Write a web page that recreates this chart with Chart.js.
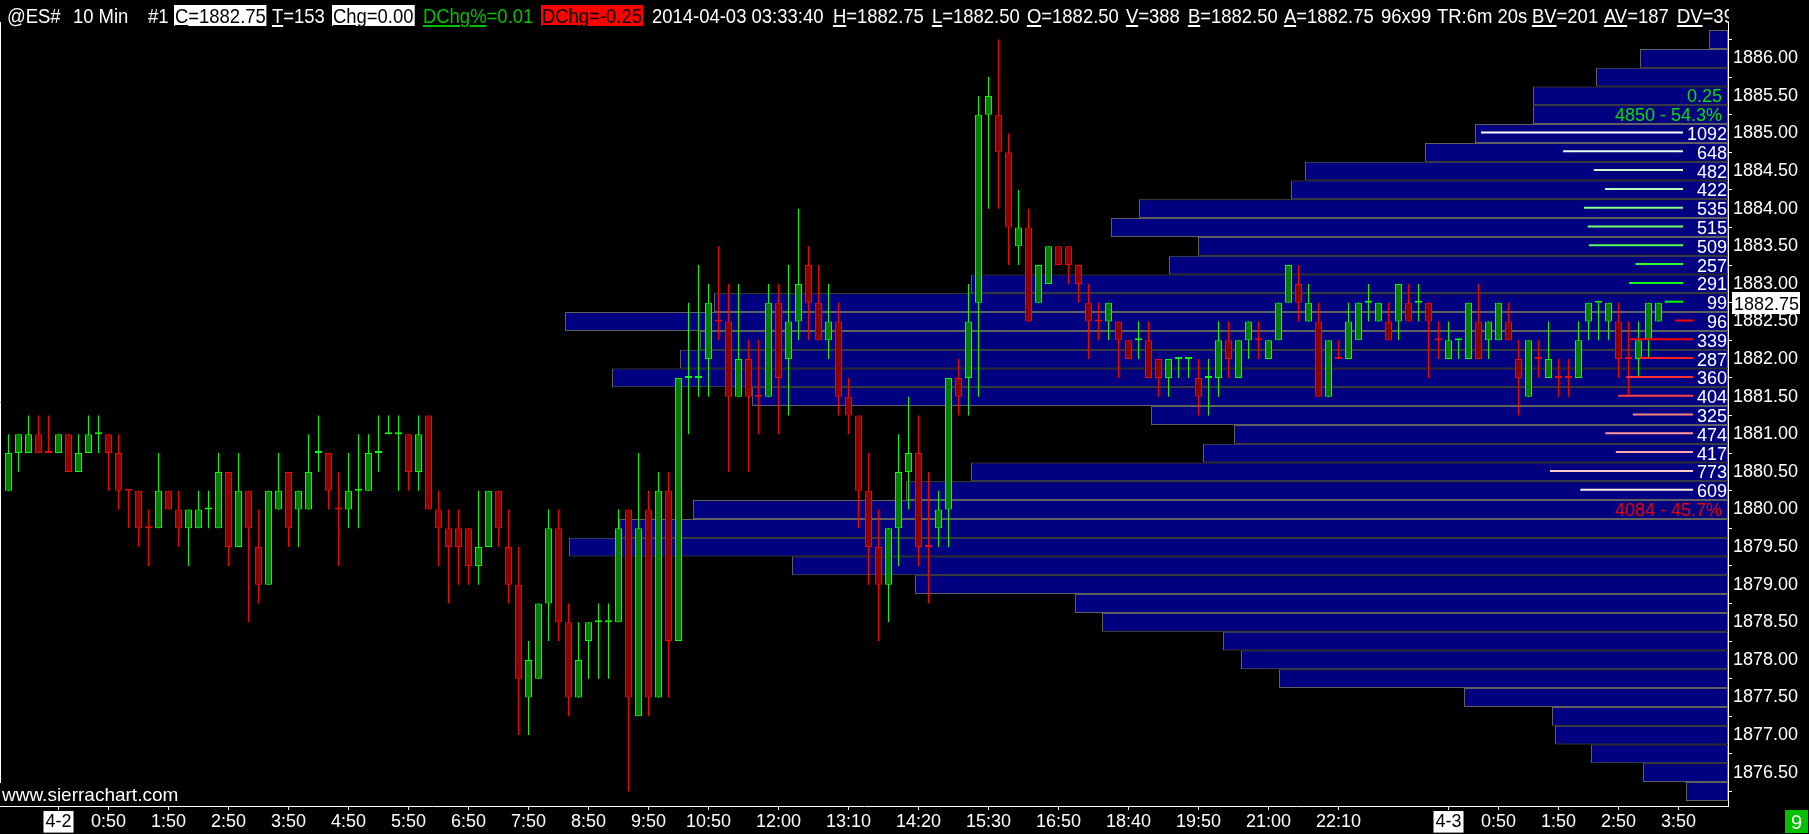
<!DOCTYPE html>
<html>
<head>
<meta charset="utf-8">
<script src="https://cdn.jsdelivr.net/npm/chart.js@4.4.1/dist/chart.umd.min.js"></script>
<style>
html, body { margin: 0; padding: 0; background: #000; overflow: hidden; }
#wrap { position: relative; width: 1809px; height: 834px; }
#chart { position: absolute; left: 0; top: 0; }
#hdr { position: absolute; left: 0; top: 0; width: 1729px; height: 28px; overflow: hidden; }
#hdr span.t { position: absolute; top: 5px; height: 21px; line-height: 21px; font-size: 21px;
  font-family: 'Liberation Sans', Arial, sans-serif; color: #fff; white-space: nowrap;
  transform: scaleX(0.88); transform-origin: 0 0; padding: 0 1px; }
#hdr span.box { background: #fff; color: #000; }
#hdr span.grn { color: #00c000; }
#hdr span.red { background: #ff0000; color: #000; }
#hdr u { text-decoration-thickness: 2px; text-underline-offset: 2px; }
</style>
</head>
<body>
<div id="wrap">
  <canvas id="chart" width="1809" height="834"></canvas>
  <div id="hdr"></div>
</div>
<script>
// 10 min bars, ES, 4-1 23:10 -> 4-3 03:30
const barOpen = [
1880.25,1880.75,1880.75,1881.00,1880.75,1880.75,1881.00,1880.50,1880.75,1881.00,
1881.00,1880.75,1880.25,1880.25,1879.75,1879.75,1880.25,1880.00,1879.75,1879.75,
1880.00,1879.75,1880.50,1879.50,1880.25,1879.50,1879.00,1880.00,1880.50,1880.00,
1880.00,1880.75,1880.75,1880.00,1880.00,1880.25,1880.25,1880.75,1881.00,1881.00,
1881.00,1880.50,1881.25,1880.00,1879.75,1879.75,1879.75,1879.25,1879.50,1880.25,
1879.50,1879.00,1877.50,1877.75,1878.75,1879.75,1878.50,1877.50,1878.25,1878.50,
1878.50,1878.50,1880.00,1877.25,1880.00,1877.50,1880.25,1878.25,1881.75,1881.75,
1882.00,1882.50,1882.50,1881.50,1882.00,1881.50,1881.50,1882.75,1882.00,1882.50,
1883.25,1882.75,1882.25,1882.50,1881.50,1881.25,1880.25,1879.50,1879.00,1879.75,
1880.50,1880.75,1879.50,1879.75,1880.00,1881.75,1881.75,1882.75,1885.25,1885.25,
1884.75,1883.50,1883.75,1882.75,1883.00,1883.50,1883.50,1883.25,1882.75,1882.50,
1882.50,1882.50,1882.25,1882.25,1882.25,1882.00,1881.75,1882.00,1882.00,1881.75,
1881.75,1881.75,1882.25,1881.75,1882.25,1882.25,1882.00,1882.25,1882.75,1883.00,
1882.50,1882.50,1881.50,1882.00,1882.00,1882.25,1882.75,1882.50,1882.50,1882.50,
1882.75,1882.75,1882.75,1882.25,1882.00,1882.25,1882.00,1882.50,1882.25,1882.25,
1882.50,1882.00,1881.50,1882.00,1881.75,1881.75,1881.75,1881.75,1882.50,1882.75,
1882.50,1882.50,1882.00,1882.00,1882.25,1882.50];
const barHigh = [
1881.00,1881.00,1881.25,1881.25,1881.25,1881.00,1881.00,1881.00,1881.25,1881.25,
1881.00,1881.00,1880.25,1880.25,1880.00,1880.75,1880.25,1880.25,1880.00,1880.25,
1880.25,1880.75,1880.50,1880.75,1880.25,1880.00,1880.25,1880.75,1880.50,1880.25,
1881.00,1881.25,1880.75,1880.50,1880.75,1881.00,1881.00,1881.25,1881.25,1881.25,
1881.00,1881.25,1881.25,1880.25,1880.00,1880.00,1879.75,1880.25,1880.25,1880.25,
1880.00,1879.50,1878.25,1878.75,1880.00,1880.00,1878.75,1878.50,1878.50,1878.75,
1878.75,1880.00,1880.00,1880.75,1880.25,1880.50,1880.50,1881.75,1882.75,1883.25,
1883.00,1883.50,1883.00,1883.00,1882.25,1882.25,1883.00,1883.00,1883.25,1884.00,
1883.50,1883.25,1883.00,1882.75,1881.75,1881.25,1880.75,1880.00,1879.75,1881.00,
1881.50,1881.25,1880.50,1880.25,1881.75,1882.00,1883.00,1885.50,1885.75,1886.25,
1885.00,1884.25,1884.00,1883.25,1883.50,1883.50,1883.50,1883.25,1883.00,1882.75,
1882.75,1882.50,1882.25,1882.50,1882.50,1882.00,1882.00,1882.00,1882.00,1882.00,
1882.00,1882.50,1882.50,1882.25,1882.50,1882.50,1882.25,1882.75,1883.25,1883.25,
1883.00,1882.75,1882.25,1882.25,1882.75,1882.75,1883.00,1882.75,1882.75,1883.00,
1883.00,1883.00,1882.75,1882.50,1882.50,1882.25,1882.75,1883.00,1882.50,1882.75,
1882.75,1882.25,1882.25,1882.25,1882.50,1882.00,1882.00,1882.50,1882.75,1882.75,
1882.75,1882.75,1882.50,1882.50,1882.75,1882.75];
const barLow = [
1880.25,1880.50,1880.75,1880.75,1880.75,1880.75,1880.50,1880.50,1880.75,1880.75,
1880.25,1880.00,1879.75,1879.50,1879.25,1879.75,1880.00,1879.50,1879.25,1879.75,
1879.75,1879.75,1879.25,1879.50,1878.50,1878.75,1879.00,1880.00,1879.50,1879.50,
1880.00,1880.50,1880.00,1879.25,1879.75,1879.75,1880.25,1880.50,1881.00,1880.25,
1880.25,1880.25,1880.00,1879.25,1878.75,1879.00,1879.00,1879.00,1879.50,1879.50,
1878.75,1877.00,1877.00,1877.75,1878.25,1878.25,1877.25,1877.50,1877.75,1877.75,
1877.75,1878.50,1876.25,1877.25,1877.25,1877.50,1877.50,1878.25,1881.00,1881.50,
1881.50,1882.25,1880.50,1881.50,1880.50,1881.00,1881.50,1881.00,1881.25,1882.25,
1882.25,1882.25,1882.00,1881.25,1881.00,1879.75,1879.00,1878.25,1878.50,1879.25,
1880.00,1879.25,1878.75,1879.50,1879.50,1881.25,1881.25,1881.50,1884.00,1884.00,
1883.25,1883.25,1882.50,1882.75,1883.00,1883.25,1883.00,1882.75,1882.00,1882.25,
1882.25,1881.75,1882.00,1882.00,1881.75,1881.50,1881.50,1881.75,1881.75,1881.25,
1881.25,1881.50,1881.75,1881.75,1882.00,1882.00,1882.00,1882.25,1882.75,1882.50,
1882.50,1881.50,1881.50,1882.00,1882.00,1882.25,1882.50,1882.50,1882.25,1882.25,
1882.50,1882.50,1881.75,1882.00,1882.00,1882.00,1882.00,1882.00,1882.00,1882.25,
1882.25,1881.25,1881.50,1881.75,1881.75,1881.50,1881.50,1881.75,1882.25,1882.25,
1882.25,1881.75,1881.50,1881.75,1882.00,1882.50];
const barClose = [
1880.75,1881.00,1881.00,1880.75,1880.75,1881.00,1880.50,1880.75,1881.00,1881.00,
1880.75,1880.25,1880.25,1879.75,1879.75,1880.25,1880.00,1879.75,1880.00,1880.00,
1880.00,1880.50,1879.50,1880.25,1879.75,1879.00,1880.25,1880.25,1879.75,1880.25,
1880.50,1880.75,1880.25,1880.00,1880.25,1880.25,1880.75,1880.75,1881.00,1881.00,
1880.50,1881.00,1880.00,1879.75,1879.50,1879.50,1879.25,1879.50,1880.25,1879.75,
1879.00,1877.75,1878.00,1878.75,1879.75,1878.50,1877.50,1878.00,1878.50,1878.50,
1878.50,1879.75,1877.50,1879.75,1877.50,1880.25,1878.25,1881.75,1881.75,1881.75,
1882.75,1882.50,1881.50,1882.00,1881.50,1881.50,1882.75,1881.75,1882.50,1883.00,
1882.75,1882.25,1882.50,1881.50,1881.25,1880.25,1879.50,1879.00,1879.75,1880.50,
1880.75,1879.50,1879.50,1880.00,1881.75,1881.50,1882.50,1885.25,1885.50,1884.75,
1883.75,1883.75,1882.50,1883.25,1883.50,1883.25,1883.25,1883.00,1882.50,1882.50,
1882.75,1882.25,1882.00,1882.25,1881.75,1881.75,1882.00,1882.00,1882.00,1881.50,
1881.75,1882.25,1882.00,1882.25,1882.50,1882.25,1882.25,1882.75,1883.25,1882.75,
1882.75,1881.50,1882.25,1882.00,1882.50,1882.75,1882.75,1882.75,1882.25,1883.00,
1882.50,1882.75,1882.50,1882.25,1882.25,1882.25,1882.75,1882.00,1882.50,1882.75,
1882.25,1881.75,1882.25,1882.00,1882.00,1881.75,1881.75,1882.25,1882.75,1882.75,
1882.75,1882.00,1882.00,1882.25,1882.75,1882.75];
// doji bars (open == close) that Sierra painted as down bars
const redDoji = [4, 12, 14, 33, 71, 75, 92, 109, 125, 133, 143, 153, 155, 156, 162];

// time scale labels (bar index -> text)
const timeTickBars = [5, 10, 16, 22, 28, 34, 40, 46, 52, 58, 64, 70, 77, 84, 91, 98, 105, 112, 119, 126, 133, 144, 149, 155, 161, 167];
const timeTickLabels = ['4-2', '0:50', '1:50', '2:50', '3:50', '4:50', '5:50', '6:50', '7:50', '8:50', '9:50', '10:50', '12:00', '13:10',
  '14:20', '15:30', '16:50', '18:40', '19:50', '21:00', '22:10', '4-3', '0:50', '1:50', '2:50', '3:50'];

// volume profile (all bars on chart)
const profilePrices = [1886.25, 1886.00, 1885.75, 1885.50, 1885.25, 1885.00, 1884.75, 1884.50, 1884.25, 1884.00,
  1883.75, 1883.50, 1883.25, 1883.00, 1882.75, 1882.50, 1882.25, 1882.00, 1881.75, 1881.50,
  1881.25, 1881.00, 1880.75, 1880.50, 1880.25, 1880.00, 1879.75, 1879.50, 1879.25, 1879.00,
  1878.75, 1878.50, 1878.25, 1878.00, 1877.75, 1877.50, 1877.25, 1877.00, 1876.75, 1876.50, 1876.25];
const profileVolume = [19, 88, 132, 195, 195, 253, 303, 423, 437, 589,
  617, 530, 559, 757, 1014, 1163, 1028, 1048, 1116, 976,
  577, 494, 525, 757, 822, 1035, 1109, 1159, 936, 813,
  653, 626, 505, 487, 449, 264, 176, 173, 137, 85, 42];

// volume at price for the current day
const dayPrices = [1885.00, 1884.75, 1884.50, 1884.25, 1884.00, 1883.75, 1883.50, 1883.25, 1883.00, 1882.75,
  1882.50, 1882.25, 1882.00, 1881.75, 1881.50, 1881.25, 1881.00, 1880.75, 1880.50, 1880.25];
const dayVolume = [1092, 648, 482, 422, 535, 515, 509, 257, 291, 99, 96, 339, 287, 360, 404, 325, 474, 417, 773, 609];
const dayLineColors = ['#ffffff', '#e0ffe8', '#c8ffc8', '#b0ffb8', '#90ff90', '#70ff70', '#50ff50', '#30ff30', '#10ff10', '#00ff00',
  '#ff0000', '#ff0000', '#ff2020', '#ff3030', '#ff4040', '#ff8080', '#ff9898', '#ffaaaa', '#ffc8c8', '#ffe8e8'];

// header line
const header = [
  [6, '@ES#', ''], [72, '10 Min', ''], [147, '#1', ''],
  [174, '<u>C</u>=1882.75', 'box'], [271, '<u>T</u>=153', ''], [332, '<u>Chg</u>=0.00', 'box'],
  [422, '<u>DChg%</u>=0.01', 'grn'], [541, '<u>DChg</u>=-0.25', 'red'],
  [651, '2014-04-03 03:33:40', ''], [832, '<u>H</u>=1882.75', ''], [931, '<u>L</u>=1882.50', ''],
  [1026, '<u>O</u>=1882.50', ''], [1125, '<u>V</u>=388', ''], [1187, '<u>B</u>=1882.50', ''],
  [1283, '<u>A</u>=1882.75', ''], [1380, '96x99', ''], [1436, 'TR:6m 20s', ''],
  [1531, '<u>BV</u>=201', ''], [1603, '<u>AV</u>=187', ''], [1676, '<u>DV</u>=392', '']
];

const FONT = "'Liberation Sans', Arial, sans-serif";
const GREEN = '#00ff00', RED = '#ff0000';

const hdr = document.getElementById('hdr');
header.forEach(([left, html, cls]) => {
  const s = document.createElement('span');
  s.className = 't ' + cls;
  s.style.left = left + 'px';
  s.innerHTML = html;
  hdr.appendChild(s);
});

const isUp = barOpen.map((o, i) => barClose[i] > o || (barClose[i] === o && !redDoji.includes(i)));
const lastClose = barClose[barClose.length - 1];

const bodies = barOpen.map((o, i) => ({ x: i, y: [o, barClose[i]] }));
const wicks = barOpen.map((o, i) => ({ x: i, y: [barLow[i], barHigh[i]] }));
const profile = profilePrices.map((p, i) => ({ x: profileVolume[i], y: p }));

const overlay = {
  id: 'overlay',
  afterDatasetsDraw(chart) {
    const { ctx, chartArea, scales } = chart;
    const y = scales.y, xd = scales.xd;
    ctx.save();
    ctx.font = '18px ' + FONT;
    ctx.textAlign = 'right';
    let upTotal = 0, downTotal = 0;
    dayPrices.forEach((p, i) => {
      const up = p >= lastClose;
      if (up) upTotal += dayVolume[i]; else downTotal += dayVolume[i];
      const gap = up ? 45 : 35;
      const yc = y.getPixelForValue(p);
      ctx.strokeStyle = dayLineColors[i];
      ctx.lineWidth = 2;
      ctx.beginPath();
      ctx.moveTo(xd.getPixelForValue(dayVolume[i]) - gap, yc - 1);
      ctx.lineTo(chartArea.right - gap, yc - 1);
      ctx.stroke();
      ctx.fillStyle = '#fff';
      ctx.fillText(String(dayVolume[i]), chartArea.right - 1, yc + 6.5);
    });
    const total = upTotal + downTotal;
    const top = dayPrices[0], bottom = dayPrices[dayPrices.length - 1];
    const step = dayPrices[0] - dayPrices[1];
    ctx.fillStyle = '#00e000';
    ctx.fillText(step.toFixed(2), chartArea.right - 6, y.getPixelForValue(top + 2 * step) + 6.5);
    ctx.fillText(upTotal + ' - ' + (upTotal / total * 100).toFixed(1) + '%', chartArea.right - 6, y.getPixelForValue(top + step) + 6.5);
    ctx.fillStyle = '#ee0000';
    ctx.fillText(downTotal + ' - ' + (downTotal / total * 100).toFixed(1) + '%', chartArea.right - 6, y.getPixelForValue(bottom - step) + 6.5);
    ctx.restore();
  },
  afterDraw(chart) {
    const { ctx, chartArea, scales } = chart;
    ctx.save();
    // left border
    ctx.strokeStyle = '#fff';
    ctx.lineWidth = 1;
    ctx.beginPath();
    ctx.moveTo(0.5, chartArea.top);
    ctx.lineTo(0.5, 783);
    ctx.stroke();
    ctx.font = '19px ' + FONT;
    ctx.fillStyle = '#fff';
    ctx.textAlign = 'left';
    ctx.fillText('www.sierrachart.com', 2, 801);
    // last price box
    const yp = Math.round(scales.y.getPixelForValue(lastClose));
    ctx.fillStyle = '#fff';
    ctx.fillRect(1732, yp - 11, 68, 22);
    ctx.fillStyle = '#000';
    ctx.font = '18px ' + FONT;
    ctx.fillText(lastClose.toFixed(2), 1734, yp + 7);
    // bars counter box
    ctx.fillStyle = '#00c000';
    ctx.fillRect(1785, 810, 23, 23);
    ctx.fillStyle = '#fff';
    ctx.font = '20px ' + FONT;
    ctx.textAlign = 'center';
    ctx.fillText('9', 1796.5, 829);
    ctx.restore();
  }
};

new Chart(document.getElementById('chart').getContext('2d'), {
  type: 'bar',
  data: {
    datasets: [
      {
        data: bodies,
        grouped: false,
        barThickness: 7,
        minBarLength: 2,
        borderWidth: 1,
        borderSkipped: false,
        inflateAmount: 0,
        backgroundColor: isUp.map(u => u ? '#008000' : '#900000'),
        borderColor: isUp.map(u => u ? GREEN : RED)
      },
      {
        data: wicks,
        grouped: false,
        barThickness: 1,
        borderWidth: 0,
        inflateAmount: 0,
        backgroundColor: isUp.map(u => u ? GREEN : RED)
      },
      {
        data: profile,
        indexAxis: 'y',
        xAxisID: 'xv',
        yAxisID: 'y',
        grouped: false,
        barPercentage: 1,
        categoryPercentage: 1,
        backgroundColor: '#000080',
        borderColor: '#606060',
        borderWidth: 1,
        borderSkipped: false,
        inflateAmount: 0
      }
    ]
  },
  options: {
    responsive: false,
    animation: false,
    devicePixelRatio: 1,
    layout: { padding: { top: 22, left: 0, right: 0, bottom: 0 } },
    plugins: { legend: { display: false }, tooltip: { enabled: false } },
    scales: {
      x: {
        type: 'linear',
        min: -0.85,
        max: 171.95,
        offset: false,
        grid: { drawOnChartArea: false, color: '#fff', tickLength: 4, offset: false },
        border: { color: '#fff' },
        afterBuildTicks: s => { s.ticks = timeTickBars.map(v => ({ value: v })); },
        afterFit: s => { s.height = 28; },
        ticks: {
          autoSkip: false,
          maxRotation: 0,
          padding: 1,
          font: { family: FONT, size: 18 },
          color: c => timeTickLabels[c.index].includes('-') ? '#000' : '#fff',
          showLabelBackdrop: c => timeTickLabels[c.index].includes('-'),
          backdropColor: '#fff',
          backdropPadding: { x: 2, y: 0 },
          callback: (v, i) => timeTickLabels[i]
        }
      },
      xv: { type: 'linear', display: false, reverse: true, min: 0, max: 1728, offset: false },
      xd: { type: 'linear', display: false, reverse: true, min: 0, max: 9340, offset: false },
      y: {
        type: 'linear',
        position: 'right',
        min: 1876.057,
        max: 1886.483,
        offset: false,
        grid: { drawOnChartArea: false, color: '#fff', tickLength: 4 },
        border: { color: '#fff' },
        afterFit: s => { s.width = 81; },
        ticks: {
          stepSize: 0.5,
          includeBounds: false,
          color: '#fff',
          padding: 1,
          font: { family: FONT, size: 18 },
          callback: v => v.toFixed(2)
        }
      }
    }
  },
  plugins: [overlay]
});
</script>
</body>
</html>
